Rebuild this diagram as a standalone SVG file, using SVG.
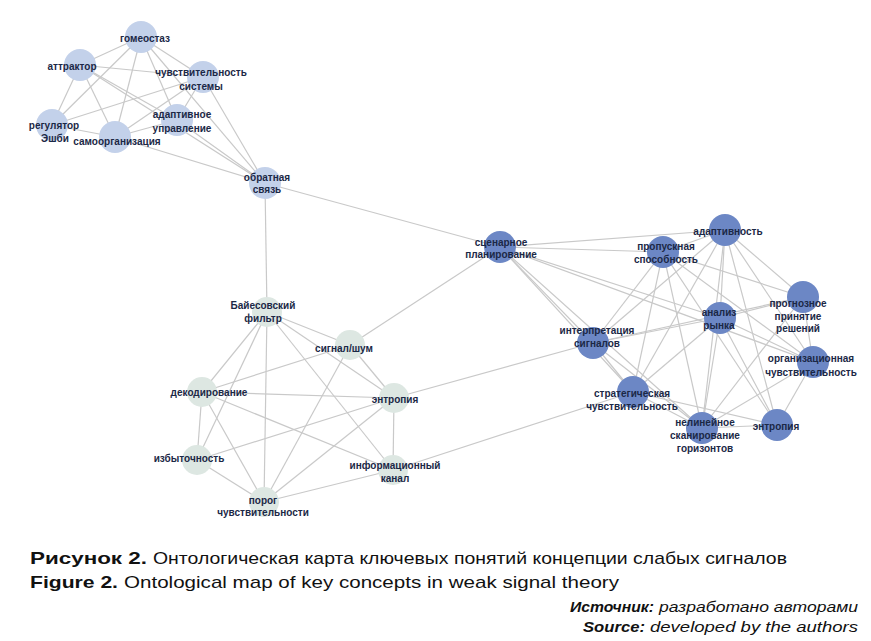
<svg xmlns="http://www.w3.org/2000/svg" width="871" height="641" viewBox="0 0 871 641">
<style>
.e{stroke:#c9c9c9;stroke-width:1.2;fill:none}
.a{fill:#c3d1ea}
.b{fill:#dde7e2}
.c{fill:#6c87c5}
.t{font-family:"Liberation Sans",Arial,sans-serif;font-weight:bold;font-size:10px;fill:#1b2846;text-anchor:middle}
.cap{font-family:"Liberation Sans",Arial,sans-serif;font-size:17px;fill:#111}
.src{font-family:"Liberation Sans",Arial,sans-serif;font-size:15px;font-style:italic;fill:#111}
</style>
<rect width="871" height="641" fill="#fff"/>
<g id="edges">
<line class="e" x1="141" y1="37" x2="80" y2="65"/>
<line class="e" x1="141" y1="37" x2="203" y2="77"/>
<line class="e" x1="141" y1="37" x2="52" y2="125"/>
<line class="e" x1="141" y1="37" x2="115" y2="137"/>
<line class="e" x1="141" y1="37" x2="177" y2="120"/>
<line class="e" x1="141" y1="37" x2="265" y2="183"/>
<line class="e" x1="80" y1="65" x2="203" y2="77"/>
<line class="e" x1="80" y1="65" x2="52" y2="125"/>
<line class="e" x1="80" y1="65" x2="115" y2="137"/>
<line class="e" x1="80" y1="65" x2="177" y2="120"/>
<line class="e" x1="80" y1="65" x2="265" y2="183"/>
<line class="e" x1="203" y1="77" x2="52" y2="125"/>
<line class="e" x1="203" y1="77" x2="115" y2="137"/>
<line class="e" x1="203" y1="77" x2="177" y2="120"/>
<line class="e" x1="203" y1="77" x2="265" y2="183"/>
<line class="e" x1="52" y1="125" x2="115" y2="137"/>
<line class="e" x1="115" y1="137" x2="177" y2="120"/>
<line class="e" x1="115" y1="137" x2="265" y2="183"/>
<line class="e" x1="177" y1="120" x2="265" y2="183"/>
<line class="e" x1="265" y1="183" x2="267" y2="312"/>
<line class="e" x1="265" y1="183" x2="500" y2="247"/>
<line class="e" x1="267" y1="312" x2="350" y2="345"/>
<line class="e" x1="267" y1="312" x2="202" y2="392"/>
<line class="e" x1="267" y1="312" x2="197" y2="460"/>
<line class="e" x1="267" y1="312" x2="264" y2="502"/>
<line class="e" x1="267" y1="312" x2="393" y2="470"/>
<line class="e" x1="267" y1="312" x2="394" y2="398"/>
<line class="e" x1="350" y1="345" x2="202" y2="392"/>
<line class="e" x1="350" y1="345" x2="394" y2="398"/>
<line class="e" x1="350" y1="345" x2="264" y2="502"/>
<line class="e" x1="350" y1="345" x2="500" y2="247"/>
<line class="e" x1="202" y1="392" x2="394" y2="398"/>
<line class="e" x1="202" y1="392" x2="197" y2="460"/>
<line class="e" x1="202" y1="392" x2="264" y2="502"/>
<line class="e" x1="202" y1="392" x2="393" y2="470"/>
<line class="e" x1="394" y1="398" x2="197" y2="460"/>
<line class="e" x1="394" y1="398" x2="264" y2="502"/>
<line class="e" x1="394" y1="398" x2="393" y2="470"/>
<line class="e" x1="394" y1="398" x2="593" y2="343"/>
<line class="e" x1="197" y1="460" x2="264" y2="502"/>
<line class="e" x1="264" y1="502" x2="393" y2="470"/>
<line class="e" x1="393" y1="470" x2="633" y2="392"/>
<line class="e" x1="500" y1="247" x2="663" y2="252"/>
<line class="e" x1="500" y1="247" x2="725" y2="230"/>
<line class="e" x1="500" y1="247" x2="593" y2="343"/>
<line class="e" x1="500" y1="247" x2="633" y2="392"/>
<line class="e" x1="500" y1="247" x2="720" y2="318"/>
<line class="e" x1="500" y1="247" x2="813" y2="362"/>
<line class="e" x1="500" y1="247" x2="702" y2="428"/>
<line class="e" x1="663" y1="252" x2="725" y2="230"/>
<line class="e" x1="663" y1="252" x2="593" y2="343"/>
<line class="e" x1="663" y1="252" x2="633" y2="392"/>
<line class="e" x1="663" y1="252" x2="702" y2="428"/>
<line class="e" x1="663" y1="252" x2="803" y2="297"/>
<line class="e" x1="663" y1="252" x2="813" y2="362"/>
<line class="e" x1="663" y1="252" x2="777" y2="425"/>
<line class="e" x1="725" y1="230" x2="803" y2="297"/>
<line class="e" x1="725" y1="230" x2="720" y2="318"/>
<line class="e" x1="725" y1="230" x2="777" y2="425"/>
<line class="e" x1="725" y1="230" x2="593" y2="343"/>
<line class="e" x1="725" y1="230" x2="633" y2="392"/>
<line class="e" x1="725" y1="230" x2="702" y2="428"/>
<line class="e" x1="725" y1="230" x2="813" y2="362"/>
<line class="e" x1="720" y1="318" x2="593" y2="343"/>
<line class="e" x1="720" y1="318" x2="803" y2="297"/>
<line class="e" x1="720" y1="318" x2="813" y2="362"/>
<line class="e" x1="720" y1="318" x2="777" y2="425"/>
<line class="e" x1="720" y1="318" x2="702" y2="428"/>
<line class="e" x1="720" y1="318" x2="633" y2="392"/>
<line class="e" x1="803" y1="297" x2="813" y2="362"/>
<line class="e" x1="803" y1="297" x2="702" y2="428"/>
<line class="e" x1="803" y1="297" x2="593" y2="343"/>
<line class="e" x1="813" y1="362" x2="777" y2="425"/>
<line class="e" x1="813" y1="362" x2="702" y2="428"/>
<line class="e" x1="777" y1="425" x2="702" y2="428"/>
<line class="e" x1="593" y1="343" x2="633" y2="392"/>
<line class="e" x1="593" y1="343" x2="702" y2="428"/>
<line class="e" x1="633" y1="392" x2="702" y2="428"/>
<line class="e" x1="633" y1="392" x2="777" y2="425"/>
</g>
<g id="n-gomeostaz"><circle class="a" cx="141" cy="37" r="16"/><text class="t" x="145" y="41.5">гомеостаз</text></g>
<g id="n-attraktor"><circle class="a" cx="80" cy="65" r="16"/><text class="t" x="72" y="69.5">аттрактор</text></g>
<g id="n-chuvst-sistemy"><circle class="a" cx="203" cy="77" r="16"/><text class="t" x="201" y="75.5">чувствительность</text><text class="t" x="201" y="89.5">системы</text></g>
<g id="n-adapt-upr"><circle class="a" cx="177" cy="120" r="16"/><text class="t" x="182" y="117.5">адаптивное</text><text class="t" x="182" y="131.5">управление</text></g>
<g id="n-regulyator"><circle class="a" cx="52" cy="125" r="16"/><text class="t" x="54" y="128.5">регулятор</text><text class="t" x="55" y="141.5">Эшби</text></g>
<g id="n-samoorg"><circle class="a" cx="115" cy="137" r="16"/><text class="t" x="117" y="145">самоорганизация</text></g>
<g id="n-obratnaya"><circle class="a" cx="265" cy="183" r="16"/><text class="t" x="267" y="180.5">обратная</text><text class="t" x="267" y="193">связь</text></g>
<g id="n-bayes"><circle class="b" cx="267" cy="312" r="15"/><text class="t" x="263" y="308.5">Байесовский</text><text class="t" x="263" y="321.5">фильтр</text></g>
<g id="n-signal"><circle class="b" cx="350" cy="345" r="15"/><text class="t" x="344" y="351.5">сигнал/шум</text></g>
<g id="n-dekod"><circle class="b" cx="202" cy="392" r="15"/><text class="t" x="209" y="395.5">декодирование</text></g>
<g id="n-entropia1"><circle class="b" cx="394" cy="398" r="15"/><text class="t" x="395" y="402.5">энтропия</text></g>
<g id="n-izbyt"><circle class="b" cx="197" cy="460" r="15"/><text class="t" x="189" y="461.5">избыточность</text></g>
<g id="n-infokanal"><circle class="b" cx="393" cy="470" r="15"/><text class="t" x="395" y="468.5">информационный</text><text class="t" x="395" y="481.5">канал</text></g>
<g id="n-porog"><circle class="b" cx="264" cy="502" r="15"/><text class="t" x="263" y="503.5">порог</text><text class="t" x="263" y="516">чувствительности</text></g>
<g id="n-scenar"><circle class="c" cx="500" cy="247" r="16"/><text class="t" x="501" y="245.5">сценарное</text><text class="t" x="501" y="257.5">планирование</text></g>
<g id="n-propusk"><circle class="c" cx="663" cy="252" r="16"/><text class="t" x="666" y="249.5">пропускная</text><text class="t" x="666" y="263">способность</text></g>
<g id="n-adaptivnost"><circle class="c" cx="725" cy="230" r="16"/><text class="t" x="728" y="234.5">адаптивность</text></g>
<g id="n-analiz"><circle class="c" cx="720" cy="318" r="16"/><text class="t" x="719" y="315.5">анализ</text><text class="t" x="719" y="329">рынка</text></g>
<g id="n-prognoz"><circle class="c" cx="803" cy="297" r="16"/><text class="t" x="798" y="306.5">прогнозное</text><text class="t" x="798" y="319.5">принятие</text><text class="t" x="798" y="332">решений</text></g>
<g id="n-organiz"><circle class="c" cx="813" cy="362" r="16"/><text class="t" x="811" y="361.5">организационная</text><text class="t" x="811" y="375.5">чувствительность</text></g>
<g id="n-entropia2"><circle class="c" cx="777" cy="425" r="16"/><text class="t" x="776" y="429.5">энтропия</text></g>
<g id="n-nelin"><circle class="c" cx="702" cy="428" r="16"/><text class="t" x="705" y="425.5">нелинейное</text><text class="t" x="705" y="438.5">сканирование</text><text class="t" x="705" y="451.5">горизонтов</text></g>
<g id="n-interp"><circle class="c" cx="593" cy="343" r="16"/><text class="t" x="597" y="333.5">интерпретация</text><text class="t" x="597" y="346.5">сигналов</text></g>
<g id="n-strateg"><circle class="c" cx="633" cy="392" r="16"/><text class="t" x="632" y="396.5">стратегическая</text><text class="t" x="632" y="409.5">чувствительность</text></g>
<g id="caption">
<text class="cap" x="30" y="564"><tspan font-weight="bold" textLength="117" lengthAdjust="spacingAndGlyphs">Рисунок 2.</tspan><tspan x="153" textLength="634" lengthAdjust="spacingAndGlyphs">Онтологическая карта ключевых понятий концепции слабых сигналов</tspan></text>
<text class="cap" x="30" y="588"><tspan font-weight="bold" textLength="88" lengthAdjust="spacingAndGlyphs">Figure 2.</tspan><tspan x="124" textLength="495" lengthAdjust="spacingAndGlyphs">Ontological map of key concepts in weak signal theory</tspan></text>
<text class="src" x="570" y="612"><tspan font-weight="bold" textLength="84" lengthAdjust="spacingAndGlyphs">Источник:</tspan><tspan x="659" textLength="199" lengthAdjust="spacingAndGlyphs">разработано авторами</tspan></text>
<text class="src" x="583" y="632"><tspan font-weight="bold" textLength="62" lengthAdjust="spacingAndGlyphs">Source:</tspan><tspan x="650" textLength="208" lengthAdjust="spacingAndGlyphs">developed by the authors</tspan></text>
</g>
</svg>
